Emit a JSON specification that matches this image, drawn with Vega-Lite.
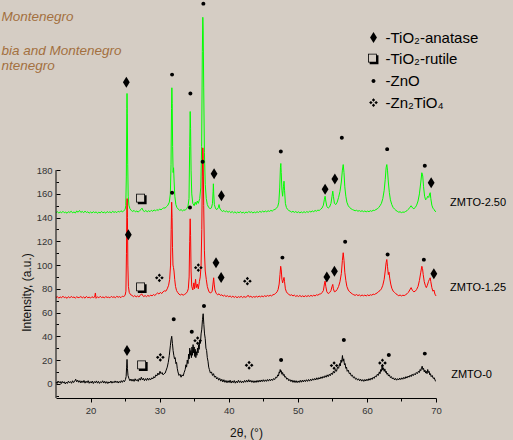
{
"$schema":"https://vega.github.io/schema/vega-lite/v6.json",
"width":380,"height":394,
"autosize":"none",
"padding":{"left":56,"top":4,"right":77,"bottom":42},
"background":"#d5cdc4",
"config":{"view":{"stroke":null},"font":"Liberation Sans"},
"datasets":{
"green":[{"t":15,"i":144.2},{"t":15.2,"i":145.1},{"t":15.4,"i":143.8},{"t":15.6,"i":144.9},{"t":15.8,"i":144},{"t":16,"i":145.3},{"t":16.2,"i":144.1},{"t":16.4,"i":144.6},{"t":16.6,"i":143.7},{"t":16.8,"i":145},{"t":17,"i":144.3},{"t":17.2,"i":145.4},{"t":17.4,"i":144},{"t":17.6,"i":144.8},{"t":17.8,"i":143.9},{"t":18,"i":145.6},{"t":18.2,"i":144.5},{"t":18.4,"i":146},{"t":18.6,"i":144.4},{"t":18.8,"i":145.2},{"t":19,"i":144.1},{"t":19.2,"i":145.5},{"t":19.4,"i":144.3},{"t":19.6,"i":144.9},{"t":19.8,"i":143.8},{"t":20,"i":144.7},{"t":20.2,"i":143.9},{"t":20.4,"i":145},{"t":20.6,"i":144.2},{"t":20.8,"i":144.8},{"t":21,"i":143.7},{"t":21.2,"i":144.6},{"t":21.4,"i":143.9},{"t":21.6,"i":145.2},{"t":21.8,"i":144},{"t":22,"i":144.7},{"t":22.2,"i":143.8},{"t":22.4,"i":145.1},{"t":22.6,"i":144.3},{"t":22.8,"i":144.9},{"t":23,"i":144},{"t":23.2,"i":145.3},{"t":23.4,"i":144.4},{"t":23.6,"i":145},{"t":23.8,"i":144.2},{"t":24,"i":145.4},{"t":24.2,"i":144.6},{"t":24.4,"i":145.8},{"t":24.6,"i":144.9},{"t":24.8,"i":145.7},{"t":25,"i":146.8},{"t":25.1,"i":150},{"t":25.18,"i":175},{"t":25.25,"i":232},{"t":25.28,"i":244.6},{"t":25.32,"i":228},{"t":25.38,"i":185},{"t":25.45,"i":158},{"t":25.55,"i":150.5},{"t":25.7,"i":147.5},{"t":25.9,"i":146},{"t":26.1,"i":145.2},{"t":26.3,"i":146.1},{"t":26.5,"i":144.8},{"t":26.7,"i":145.6},{"t":26.9,"i":144.6},{"t":27.1,"i":145.9},{"t":27.3,"i":146.8},{"t":27.45,"i":148},{"t":27.6,"i":146},{"t":27.8,"i":145.1},{"t":28,"i":146},{"t":28.2,"i":144.9},{"t":28.4,"i":145.8},{"t":28.6,"i":145},{"t":28.8,"i":146.2},{"t":29,"i":145.3},{"t":29.2,"i":146.5},{"t":29.4,"i":145.6},{"t":29.6,"i":146.8},{"t":29.8,"i":146},{"t":30,"i":147.3},{"t":30.2,"i":146.5},{"t":30.4,"i":147.6},{"t":30.6,"i":148.2},{"t":30.8,"i":148},{"t":31,"i":149.3},{"t":31.2,"i":150.5},{"t":31.4,"i":153},{"t":31.55,"i":160},{"t":31.65,"i":185},{"t":31.72,"i":232},{"t":31.77,"i":249.4},{"t":31.82,"i":236},{"t":31.88,"i":200},{"t":31.95,"i":178},{"t":32.02,"i":182},{"t":32.1,"i":170},{"t":32.2,"i":158},{"t":32.35,"i":151},{"t":32.5,"i":148.5},{"t":32.7,"i":147.2},{"t":32.9,"i":146},{"t":33.1,"i":146.8},{"t":33.3,"i":145.7},{"t":33.5,"i":146.5},{"t":33.7,"i":146.2},{"t":33.9,"i":147.5},{"t":34.1,"i":149.5},{"t":34.25,"i":156},{"t":34.35,"i":200},{"t":34.42,"i":229.4},{"t":34.48,"i":215},{"t":34.55,"i":180},{"t":34.65,"i":160},{"t":34.8,"i":152},{"t":35,"i":150},{"t":35.15,"i":153},{"t":35.3,"i":151},{"t":35.45,"i":154},{"t":35.6,"i":152},{"t":35.8,"i":156},{"t":35.95,"i":165},{"t":36.08,"i":200},{"t":36.18,"i":280},{"t":36.25,"i":308.8},{"t":36.3,"i":298},{"t":36.38,"i":250},{"t":36.48,"i":195},{"t":36.6,"i":168},{"t":36.75,"i":156},{"t":36.9,"i":151},{"t":37.1,"i":148.5},{"t":37.3,"i":147.6},{"t":37.5,"i":148.2},{"t":37.65,"i":152},{"t":37.74,"i":162},{"t":37.78,"i":168.5},{"t":37.83,"i":160},{"t":37.92,"i":151},{"t":38.1,"i":147.5},{"t":38.3,"i":146.8},{"t":38.5,"i":148.5},{"t":38.6,"i":151},{"t":38.7,"i":148},{"t":38.9,"i":146.1},{"t":39.1,"i":145.2},{"t":39.3,"i":146},{"t":39.5,"i":144.8},{"t":39.7,"i":145.6},{"t":39.9,"i":144.5},{"t":40.1,"i":145.3},{"t":40.3,"i":144.2},{"t":40.5,"i":145.1},{"t":40.7,"i":144},{"t":40.9,"i":144.9},{"t":41.1,"i":143.8},{"t":41.3,"i":144.7},{"t":41.5,"i":144.1},{"t":41.7,"i":145},{"t":41.9,"i":143.9},{"t":42.1,"i":144.6},{"t":42.3,"i":143.7},{"t":42.5,"i":144.8},{"t":42.7,"i":144},{"t":42.9,"i":145.2},{"t":43.1,"i":144.3},{"t":43.3,"i":144.9},{"t":43.5,"i":143.9},{"t":43.7,"i":144.7},{"t":43.9,"i":144.1},{"t":44.1,"i":145},{"t":44.3,"i":144.3},{"t":44.5,"i":145.3},{"t":44.7,"i":144.5},{"t":44.9,"i":145.5},{"t":45.1,"i":144.7},{"t":45.3,"i":145.6},{"t":45.5,"i":144.9},{"t":45.7,"i":145.8},{"t":45.9,"i":145.2},{"t":46.1,"i":146.1},{"t":46.3,"i":145.5},{"t":46.5,"i":146.5},{"t":46.7,"i":146.9},{"t":46.9,"i":147.8},{"t":47.1,"i":149.5},{"t":47.25,"i":153},{"t":47.38,"i":165},{"t":47.48,"i":182},{"t":47.54,"i":185.6},{"t":47.6,"i":178},{"t":47.7,"i":163},{"t":47.8,"i":158},{"t":47.92,"i":166},{"t":48,"i":170.7},{"t":48.08,"i":163},{"t":48.2,"i":152},{"t":48.35,"i":148.5},{"t":48.5,"i":147},{"t":48.7,"i":146},{"t":48.9,"i":145.4},{"t":49.1,"i":144.6},{"t":49.3,"i":145.3},{"t":49.5,"i":144.4},{"t":49.7,"i":145.1},{"t":49.9,"i":144.2},{"t":50.1,"i":144.9},{"t":50.3,"i":144},{"t":50.5,"i":144.8},{"t":50.7,"i":144.1},{"t":50.9,"i":145},{"t":51.1,"i":144.2},{"t":51.3,"i":145.1},{"t":51.5,"i":144.4},{"t":51.7,"i":145.3},{"t":51.9,"i":144.7},{"t":52.1,"i":145.6},{"t":52.3,"i":145},{"t":52.5,"i":146},{"t":52.7,"i":145.4},{"t":52.9,"i":146.3},{"t":53.1,"i":146},{"t":53.3,"i":147},{"t":53.5,"i":148},{"t":53.7,"i":150.5},{"t":53.85,"i":155.5},{"t":53.95,"i":158},{"t":54.05,"i":154},{"t":54.2,"i":149.5},{"t":54.4,"i":148},{"t":54.6,"i":149},{"t":54.8,"i":152},{"t":54.95,"i":158},{"t":55.06,"i":162.3},{"t":55.15,"i":158},{"t":55.3,"i":152},{"t":55.5,"i":151},{"t":55.7,"i":153},{"t":55.9,"i":157},{"t":56.1,"i":162},{"t":56.3,"i":170},{"t":56.45,"i":180},{"t":56.57,"i":184.7},{"t":56.68,"i":178},{"t":56.8,"i":166},{"t":56.95,"i":158},{"t":57.1,"i":153},{"t":57.3,"i":150},{"t":57.5,"i":148.5},{"t":57.7,"i":147.5},{"t":57.9,"i":146.8},{"t":58.1,"i":146.3},{"t":58.3,"i":145.8},{"t":58.5,"i":146.2},{"t":58.7,"i":145.4},{"t":58.9,"i":145.9},{"t":59.1,"i":145.2},{"t":59.3,"i":145.8},{"t":59.5,"i":145},{"t":59.7,"i":145.6},{"t":59.9,"i":144.9},{"t":60.1,"i":145.5},{"t":60.3,"i":145},{"t":60.5,"i":145.8},{"t":60.7,"i":145.3},{"t":60.9,"i":146.2},{"t":61.1,"i":146},{"t":61.3,"i":146.8},{"t":61.5,"i":147.3},{"t":61.7,"i":148.5},{"t":61.9,"i":150},{"t":62.1,"i":152},{"t":62.3,"i":156},{"t":62.5,"i":163},{"t":62.65,"i":172},{"t":62.78,"i":182},{"t":62.88,"i":184.7},{"t":62.98,"i":180},{"t":63.1,"i":170},{"t":63.25,"i":161},{"t":63.4,"i":155},{"t":63.6,"i":151},{"t":63.8,"i":148.5},{"t":64,"i":147.2},{"t":64.2,"i":146.1},{"t":64.4,"i":145.3},{"t":64.6,"i":144.6},{"t":64.8,"i":144.9},{"t":65,"i":144.2},{"t":65.2,"i":144.7},{"t":65.4,"i":144.5},{"t":65.6,"i":145.2},{"t":65.8,"i":145.8},{"t":66,"i":147},{"t":66.2,"i":148.5},{"t":66.4,"i":150},{"t":66.6,"i":148.2},{"t":66.8,"i":147.5},{"t":67,"i":148.5},{"t":67.2,"i":150.5},{"t":67.4,"i":154},{"t":67.6,"i":160},{"t":67.8,"i":170},{"t":67.95,"i":177.8},{"t":68.08,"i":175},{"t":68.2,"i":166},{"t":68.35,"i":158},{"t":68.5,"i":155},{"t":68.65,"i":156},{"t":68.8,"i":158},{"t":68.95,"i":157},{"t":69.08,"i":160},{"t":69.16,"i":161},{"t":69.25,"i":156},{"t":69.4,"i":150.5},{"t":69.55,"i":148},{"t":69.7,"i":147},{"t":69.85,"i":145.5},{"t":70,"i":145}],
"red":[{"t":15,"i":72.6},{"t":15.2,"i":73.5},{"t":15.4,"i":72.1},{"t":15.6,"i":73.2},{"t":15.8,"i":72.4},{"t":16,"i":73.8},{"t":16.2,"i":72.5},{"t":16.4,"i":73},{"t":16.6,"i":72},{"t":16.8,"i":73.4},{"t":17,"i":72.3},{"t":17.2,"i":73.6},{"t":17.4,"i":72.7},{"t":17.6,"i":73.1},{"t":17.8,"i":72.2},{"t":18,"i":73.3},{"t":18.2,"i":72.6},{"t":18.4,"i":72.8},{"t":18.6,"i":73.5},{"t":18.8,"i":72.4},{"t":19,"i":73.2},{"t":19.2,"i":72.1},{"t":19.4,"i":73.6},{"t":19.6,"i":72.5},{"t":19.8,"i":73},{"t":20,"i":72.2},{"t":20.2,"i":73.4},{"t":20.4,"i":72.6},{"t":20.6,"i":73.1},{"t":20.7,"i":76.5},{"t":20.8,"i":72},{"t":21,"i":73.3},{"t":21.2,"i":72.4},{"t":21.4,"i":73.7},{"t":21.6,"i":72.6},{"t":21.8,"i":73.2},{"t":22,"i":72.3},{"t":22.2,"i":73.5},{"t":22.4,"i":72.7},{"t":22.6,"i":73},{"t":22.8,"i":72.4},{"t":23,"i":73.6},{"t":23.2,"i":72.8},{"t":23.4,"i":73.3},{"t":23.6,"i":72.5},{"t":23.8,"i":73.7},{"t":24,"i":72.9},{"t":24.2,"i":73.4},{"t":24.4,"i":72.6},{"t":24.6,"i":73.8},{"t":24.8,"i":73.5},{"t":25,"i":74.5},{"t":25.12,"i":78},{"t":25.2,"i":110},{"t":25.26,"i":150},{"t":25.3,"i":156},{"t":25.34,"i":140},{"t":25.4,"i":100},{"t":25.48,"i":82},{"t":25.6,"i":77},{"t":25.8,"i":75},{"t":26,"i":74.5},{"t":26.2,"i":73.4},{"t":26.4,"i":74.3},{"t":26.6,"i":73.2},{"t":26.8,"i":74},{"t":27,"i":73.1},{"t":27.2,"i":74.6},{"t":27.4,"i":75.8},{"t":27.55,"i":74.2},{"t":27.7,"i":73.5},{"t":27.9,"i":74.3},{"t":28.1,"i":73.4},{"t":28.3,"i":74.5},{"t":28.5,"i":73.6},{"t":28.7,"i":74.8},{"t":28.9,"i":74},{"t":29.1,"i":75.2},{"t":29.3,"i":74.4},{"t":29.5,"i":75.5},{"t":29.7,"i":76.5},{"t":29.9,"i":75.6},{"t":30.1,"i":77},{"t":30.3,"i":76},{"t":30.5,"i":77.5},{"t":30.7,"i":78.3},{"t":30.9,"i":78},{"t":31.1,"i":80},{"t":31.3,"i":83},{"t":31.45,"i":88},{"t":31.58,"i":100},{"t":31.67,"i":130},{"t":31.74,"i":153},{"t":31.8,"i":140},{"t":31.86,"i":115},{"t":31.93,"i":100},{"t":32,"i":98},{"t":32.08,"i":95},{"t":32.18,"i":88},{"t":32.3,"i":82},{"t":32.45,"i":78.5},{"t":32.6,"i":77},{"t":32.8,"i":75.5},{"t":33,"i":74.8},{"t":33.2,"i":75.5},{"t":33.4,"i":74.6},{"t":33.6,"i":75.3},{"t":33.8,"i":76},{"t":34,"i":77.5},{"t":34.15,"i":80},{"t":34.27,"i":90},{"t":34.35,"i":120},{"t":34.42,"i":139},{"t":34.48,"i":125},{"t":34.55,"i":95},{"t":34.65,"i":82},{"t":34.8,"i":79},{"t":34.95,"i":85},{"t":35.05,"i":80},{"t":35.2,"i":88},{"t":35.3,"i":81},{"t":35.45,"i":84},{"t":35.6,"i":80},{"t":35.75,"i":86},{"t":35.88,"i":90},{"t":36,"i":100},{"t":36.1,"i":130},{"t":36.18,"i":175},{"t":36.25,"i":198.8},{"t":36.3,"i":190},{"t":36.38,"i":150},{"t":36.48,"i":112},{"t":36.6,"i":95},{"t":36.75,"i":88},{"t":36.9,"i":82},{"t":37.05,"i":79},{"t":37.2,"i":77},{"t":37.4,"i":76.5},{"t":37.6,"i":78},{"t":37.72,"i":84},{"t":37.82,"i":89.3},{"t":37.9,"i":84},{"t":38,"i":79},{"t":38.2,"i":76},{"t":38.4,"i":75},{"t":38.6,"i":75.8},{"t":38.8,"i":74.4},{"t":39,"i":75},{"t":39.2,"i":73.8},{"t":39.4,"i":74.6},{"t":39.6,"i":73.5},{"t":39.8,"i":74.2},{"t":40,"i":73.3},{"t":40.2,"i":74},{"t":40.4,"i":72.9},{"t":40.6,"i":73.8},{"t":40.8,"i":72.7},{"t":41,"i":73.6},{"t":41.2,"i":72.5},{"t":41.4,"i":73.4},{"t":41.6,"i":72.8},{"t":41.8,"i":73.7},{"t":42,"i":72.6},{"t":42.2,"i":73.5},{"t":42.4,"i":72.9},{"t":42.6,"i":73.2},{"t":42.8,"i":74.6},{"t":43,"i":73},{"t":43.2,"i":73.8},{"t":43.4,"i":72.7},{"t":43.6,"i":73.5},{"t":43.8,"i":72.9},{"t":44,"i":73.7},{"t":44.2,"i":73},{"t":44.4,"i":73.9},{"t":44.6,"i":73.2},{"t":44.8,"i":74},{"t":45,"i":73.3},{"t":45.2,"i":74.2},{"t":45.4,"i":73.5},{"t":45.6,"i":74.4},{"t":45.8,"i":73.8},{"t":46,"i":74.6},{"t":46.2,"i":74},{"t":46.4,"i":75},{"t":46.6,"i":75.3},{"t":46.8,"i":76.2},{"t":47,"i":77.5},{"t":47.15,"i":79.5},{"t":47.3,"i":84},{"t":47.42,"i":92},{"t":47.52,"i":99},{"t":47.6,"i":96},{"t":47.7,"i":88},{"t":47.8,"i":85},{"t":47.9,"i":87},{"t":48,"i":89.6},{"t":48.08,"i":86},{"t":48.2,"i":80},{"t":48.35,"i":77.5},{"t":48.5,"i":76.2},{"t":48.7,"i":75.3},{"t":48.9,"i":74.5},{"t":49.1,"i":75},{"t":49.3,"i":74},{"t":49.5,"i":74.7},{"t":49.7,"i":73.6},{"t":49.9,"i":74.3},{"t":50.1,"i":73.5},{"t":50.3,"i":74.4},{"t":50.5,"i":73.4},{"t":50.7,"i":74.1},{"t":50.9,"i":73.3},{"t":51.1,"i":74.2},{"t":51.3,"i":73.5},{"t":51.5,"i":74.3},{"t":51.7,"i":73.6},{"t":51.9,"i":74.5},{"t":52.1,"i":73.8},{"t":52.3,"i":74.6},{"t":52.5,"i":74},{"t":52.7,"i":75},{"t":52.9,"i":74.6},{"t":53.1,"i":75.5},{"t":53.3,"i":75.6},{"t":53.5,"i":76.8},{"t":53.7,"i":78.5},{"t":53.85,"i":84},{"t":53.95,"i":86.5},{"t":54.05,"i":82},{"t":54.2,"i":77.5},{"t":54.4,"i":76},{"t":54.6,"i":76.8},{"t":54.8,"i":78.5},{"t":54.95,"i":82},{"t":55.06,"i":83.7},{"t":55.15,"i":80},{"t":55.3,"i":77.5},{"t":55.5,"i":78},{"t":55.7,"i":79.5},{"t":55.9,"i":82},{"t":56.1,"i":86},{"t":56.3,"i":93},{"t":56.45,"i":104},{"t":56.57,"i":110.4},{"t":56.68,"i":104},{"t":56.8,"i":94},{"t":56.95,"i":87},{"t":57.1,"i":82},{"t":57.3,"i":79},{"t":57.5,"i":77.5},{"t":57.7,"i":76.5},{"t":57.9,"i":75.6},{"t":58.1,"i":75},{"t":58.3,"i":74.5},{"t":58.5,"i":75.2},{"t":58.7,"i":74.3},{"t":58.9,"i":74.9},{"t":59.1,"i":74},{"t":59.3,"i":74.8},{"t":59.5,"i":74.1},{"t":59.7,"i":74.7},{"t":59.9,"i":74},{"t":60.1,"i":74.9},{"t":60.3,"i":74.2},{"t":60.5,"i":75},{"t":60.7,"i":74.6},{"t":60.9,"i":75.5},{"t":61.1,"i":75.2},{"t":61.3,"i":76},{"t":61.5,"i":76.5},{"t":61.7,"i":77.8},{"t":61.9,"i":78.5},{"t":62.1,"i":80},{"t":62.3,"i":83},{"t":62.5,"i":88},{"t":62.65,"i":95},{"t":62.78,"i":102},{"t":62.88,"i":104.7},{"t":62.98,"i":99},{"t":63.1,"i":92},{"t":63.2,"i":94},{"t":63.3,"i":89},{"t":63.45,"i":84},{"t":63.6,"i":80.5},{"t":63.8,"i":78},{"t":64,"i":77},{"t":64.2,"i":75.8},{"t":64.4,"i":75},{"t":64.6,"i":74.2},{"t":64.8,"i":74.8},{"t":65,"i":74},{"t":65.2,"i":74.6},{"t":65.4,"i":74.3},{"t":65.6,"i":75},{"t":65.8,"i":75.8},{"t":66,"i":77},{"t":66.2,"i":79},{"t":66.4,"i":81},{"t":66.6,"i":78.5},{"t":66.8,"i":77.5},{"t":67,"i":78},{"t":67.2,"i":79.5},{"t":67.4,"i":82},{"t":67.6,"i":87},{"t":67.8,"i":94},{"t":67.95,"i":99},{"t":68.05,"i":97},{"t":68.15,"i":92},{"t":68.3,"i":86},{"t":68.45,"i":83},{"t":68.6,"i":81},{"t":68.75,"i":83},{"t":68.9,"i":86},{"t":69.05,"i":88},{"t":69.16,"i":89.3},{"t":69.25,"i":86},{"t":69.4,"i":81},{"t":69.55,"i":78},{"t":69.7,"i":79},{"t":69.85,"i":75.5},{"t":70,"i":74}],
"black":[{"t":15,"i":1.5},{"t":15.15,"i":0.2},{"t":15.3,"i":2.3},{"t":15.45,"i":0.8},{"t":15.6,"i":1.9},{"t":15.75,"i":0.1},{"t":15.9,"i":2},{"t":16.05,"i":0.6},{"t":16.2,"i":1.7},{"t":16.35,"i":-0.2},{"t":16.5,"i":1.4},{"t":16.65,"i":0.3},{"t":16.8,"i":2.2},{"t":16.95,"i":0.9},{"t":17.1,"i":1.8},{"t":17.25,"i":0.4},{"t":17.4,"i":2.5},{"t":17.55,"i":1},{"t":17.7,"i":2.1},{"t":17.85,"i":3.8},{"t":18,"i":1.6},{"t":18.15,"i":3},{"t":18.3,"i":1.2},{"t":18.45,"i":2.6},{"t":18.6,"i":0.7},{"t":18.75,"i":2.4},{"t":18.9,"i":1},{"t":19.05,"i":2.8},{"t":19.2,"i":0.5},{"t":19.35,"i":2.2},{"t":19.5,"i":0.9},{"t":19.65,"i":2.6},{"t":19.8,"i":0.4},{"t":19.95,"i":1.8},{"t":20.1,"i":0.6},{"t":20.25,"i":2.3},{"t":20.4,"i":0.2},{"t":20.55,"i":1.9},{"t":20.7,"i":0.8},{"t":20.85,"i":2.4},{"t":21,"i":0.5},{"t":21.15,"i":2},{"t":21.3,"i":0.3},{"t":21.45,"i":1.7},{"t":21.6,"i":0.9},{"t":21.75,"i":2.5},{"t":21.9,"i":0.6},{"t":22.05,"i":2.1},{"t":22.2,"i":0.4},{"t":22.35,"i":1.8},{"t":22.5,"i":0.2},{"t":22.65,"i":1.6},{"t":22.8,"i":0.7},{"t":22.95,"i":2.3},{"t":23.1,"i":0.5},{"t":23.25,"i":1.9},{"t":23.4,"i":0.8},{"t":23.55,"i":2.4},{"t":23.7,"i":1},{"t":23.85,"i":2.2},{"t":24,"i":0.6},{"t":24.15,"i":2},{"t":24.3,"i":0.9},{"t":24.45,"i":2.6},{"t":24.6,"i":1.2},{"t":24.75,"i":2.8},{"t":24.9,"i":1.7},{"t":25.05,"i":3.5},{"t":25.15,"i":6},{"t":25.22,"i":14},{"t":25.28,"i":20.5},{"t":25.34,"i":13},{"t":25.42,"i":7},{"t":25.55,"i":4.5},{"t":25.7,"i":2.5},{"t":25.85,"i":4},{"t":26,"i":2.2},{"t":26.15,"i":3.8},{"t":26.3,"i":2},{"t":26.45,"i":4.2},{"t":26.6,"i":2.5},{"t":26.75,"i":3.6},{"t":26.9,"i":2},{"t":27.05,"i":4.5},{"t":27.2,"i":3},{"t":27.35,"i":5.5},{"t":27.5,"i":3.2},{"t":27.65,"i":4.6},{"t":27.8,"i":2.6},{"t":27.95,"i":4.3},{"t":28.1,"i":2.8},{"t":28.25,"i":4.8},{"t":28.4,"i":3},{"t":28.55,"i":4.5},{"t":28.7,"i":3.3},{"t":28.85,"i":5},{"t":29,"i":4},{"t":29.15,"i":6},{"t":29.3,"i":5},{"t":29.45,"i":7.5},{"t":29.6,"i":6.5},{"t":29.75,"i":9},{"t":29.9,"i":7.5},{"t":30.05,"i":10.5},{"t":30.2,"i":8.5},{"t":30.35,"i":9.5},{"t":30.5,"i":7.5},{"t":30.65,"i":8.5},{"t":30.8,"i":9},{"t":30.95,"i":11.5},{"t":31.1,"i":14},{"t":31.25,"i":18},{"t":31.4,"i":24},{"t":31.55,"i":32},{"t":31.65,"i":37},{"t":31.75,"i":40},{"t":31.85,"i":34},{"t":31.95,"i":28},{"t":32.05,"i":24},{"t":32.15,"i":21},{"t":32.25,"i":22},{"t":32.35,"i":17},{"t":32.45,"i":18},{"t":32.55,"i":13},{"t":32.65,"i":10},{"t":32.8,"i":7},{"t":32.95,"i":8},{"t":33.1,"i":5.5},{"t":33.25,"i":7.5},{"t":33.4,"i":6.5},{"t":33.55,"i":9.5},{"t":33.7,"i":12},{"t":33.8,"i":16},{"t":33.9,"i":14},{"t":34,"i":20},{"t":34.1,"i":17},{"t":34.2,"i":25},{"t":34.28,"i":21},{"t":34.36,"i":30},{"t":34.44,"i":24},{"t":34.52,"i":28},{"t":34.6,"i":22},{"t":34.68,"i":31},{"t":34.76,"i":24},{"t":34.84,"i":33},{"t":34.92,"i":26},{"t":35,"i":31},{"t":35.08,"i":23},{"t":35.16,"i":29},{"t":35.24,"i":22},{"t":35.32,"i":27},{"t":35.4,"i":24},{"t":35.48,"i":30},{"t":35.56,"i":26},{"t":35.64,"i":33},{"t":35.72,"i":29},{"t":35.8,"i":36},{"t":35.9,"i":34},{"t":36,"i":42},{"t":36.1,"i":46},{"t":36.2,"i":54},{"t":36.3,"i":59},{"t":36.4,"i":50},{"t":36.5,"i":42},{"t":36.6,"i":38},{"t":36.7,"i":30},{"t":36.8,"i":28},{"t":36.9,"i":22},{"t":37,"i":19},{"t":37.1,"i":14},{"t":37.2,"i":12},{"t":37.35,"i":9},{"t":37.5,"i":10},{"t":37.65,"i":7},{"t":37.8,"i":8.5},{"t":37.95,"i":5.5},{"t":38.1,"i":6.5},{"t":38.25,"i":4},{"t":38.4,"i":5.2},{"t":38.55,"i":3},{"t":38.7,"i":4.5},{"t":38.85,"i":2.2},{"t":39,"i":3.8},{"t":39.15,"i":1.5},{"t":39.3,"i":3.4},{"t":39.45,"i":1.2},{"t":39.6,"i":2.8},{"t":39.75,"i":0.8},{"t":39.9,"i":2.6},{"t":40.05,"i":1},{"t":40.2,"i":3},{"t":40.35,"i":0.6},{"t":40.5,"i":2.4},{"t":40.65,"i":0.9},{"t":40.8,"i":2.7},{"t":40.95,"i":0.5},{"t":41.1,"i":2.2},{"t":41.25,"i":0.8},{"t":41.4,"i":2.9},{"t":41.55,"i":1.1},{"t":41.7,"i":2.5},{"t":41.85,"i":0.7},{"t":42,"i":2.3},{"t":42.15,"i":1},{"t":42.3,"i":2.8},{"t":42.45,"i":1.3},{"t":42.6,"i":3},{"t":42.75,"i":1.4},{"t":42.9,"i":3.4},{"t":43.05,"i":1.5},{"t":43.2,"i":2.9},{"t":43.35,"i":1.2},{"t":43.5,"i":2.6},{"t":43.65,"i":0.9},{"t":43.8,"i":2.5},{"t":43.95,"i":1.1},{"t":44.1,"i":2.8},{"t":44.25,"i":1.3},{"t":44.4,"i":3},{"t":44.55,"i":1.5},{"t":44.7,"i":3.2},{"t":44.85,"i":1.8},{"t":45,"i":3.4},{"t":45.15,"i":1.9},{"t":45.3,"i":3.3},{"t":45.45,"i":2},{"t":45.6,"i":3.6},{"t":45.75,"i":2.2},{"t":45.9,"i":3.8},{"t":46.05,"i":2.5},{"t":46.2,"i":4},{"t":46.35,"i":2.8},{"t":46.5,"i":4.4},{"t":46.65,"i":3.5},{"t":46.8,"i":5.5},{"t":46.95,"i":5},{"t":47.1,"i":7.5},{"t":47.2,"i":6.5},{"t":47.3,"i":10},{"t":47.38,"i":9},{"t":47.45,"i":12},{"t":47.52,"i":10},{"t":47.6,"i":11},{"t":47.7,"i":8},{"t":47.8,"i":9.5},{"t":47.9,"i":7},{"t":48,"i":8},{"t":48.12,"i":5.5},{"t":48.25,"i":6},{"t":48.4,"i":3.8},{"t":48.55,"i":4.6},{"t":48.7,"i":2.5},{"t":48.85,"i":3.6},{"t":49,"i":1.8},{"t":49.15,"i":3.2},{"t":49.3,"i":1.2},{"t":49.45,"i":2.8},{"t":49.6,"i":1},{"t":49.75,"i":2.6},{"t":49.9,"i":0.9},{"t":50.05,"i":2.4},{"t":50.2,"i":1.1},{"t":50.35,"i":2.9},{"t":50.5,"i":1.3},{"t":50.65,"i":3},{"t":50.8,"i":1.5},{"t":50.95,"i":3.2},{"t":51.1,"i":1.8},{"t":51.25,"i":3.4},{"t":51.4,"i":2},{"t":51.55,"i":3.6},{"t":51.7,"i":2.2},{"t":51.85,"i":3.9},{"t":52,"i":2.6},{"t":52.15,"i":4.2},{"t":52.3,"i":3},{"t":52.45,"i":4.5},{"t":52.6,"i":3.2},{"t":52.75,"i":5},{"t":52.9,"i":3.6},{"t":53.05,"i":5.2},{"t":53.2,"i":4},{"t":53.35,"i":5.8},{"t":53.5,"i":4.5},{"t":53.65,"i":6.2},{"t":53.8,"i":5},{"t":53.95,"i":6.8},{"t":54.1,"i":5.5},{"t":54.25,"i":7.5},{"t":54.4,"i":6},{"t":54.55,"i":8},{"t":54.7,"i":6.8},{"t":54.85,"i":9},{"t":55,"i":7.8},{"t":55.15,"i":10.5},{"t":55.3,"i":9},{"t":55.45,"i":12},{"t":55.6,"i":10.5},{"t":55.75,"i":14},{"t":55.9,"i":13},{"t":56.05,"i":17},{"t":56.15,"i":15},{"t":56.25,"i":20},{"t":56.35,"i":18},{"t":56.46,"i":23.8},{"t":56.55,"i":19},{"t":56.65,"i":21},{"t":56.75,"i":16},{"t":56.85,"i":17},{"t":56.95,"i":13},{"t":57.05,"i":14},{"t":57.15,"i":10.5},{"t":57.3,"i":11.5},{"t":57.45,"i":8.5},{"t":57.6,"i":9},{"t":57.75,"i":6.5},{"t":57.9,"i":7.2},{"t":58.05,"i":5},{"t":58.2,"i":5.8},{"t":58.35,"i":3.8},{"t":58.5,"i":4.6},{"t":58.65,"i":3},{"t":58.8,"i":4.2},{"t":58.95,"i":2.5},{"t":59.1,"i":3.8},{"t":59.25,"i":2.2},{"t":59.4,"i":3.5},{"t":59.55,"i":2},{"t":59.7,"i":3.6},{"t":59.85,"i":2.3},{"t":60,"i":3.9},{"t":60.15,"i":2.6},{"t":60.3,"i":4.3},{"t":60.45,"i":3},{"t":60.6,"i":4.8},{"t":60.75,"i":3.6},{"t":60.9,"i":5.5},{"t":61.05,"i":4.5},{"t":61.2,"i":6.5},{"t":61.35,"i":5.8},{"t":61.5,"i":8},{"t":61.65,"i":7},{"t":61.8,"i":10},{"t":61.9,"i":8.5},{"t":62,"i":12},{"t":62.1,"i":10.5},{"t":62.2,"i":14.8},{"t":62.3,"i":11.5},{"t":62.4,"i":13.5},{"t":62.5,"i":10.5},{"t":62.6,"i":12.5},{"t":62.7,"i":9.5},{"t":62.8,"i":10.5},{"t":62.9,"i":8},{"t":63,"i":9},{"t":63.12,"i":6.5},{"t":63.25,"i":7.5},{"t":63.4,"i":5.2},{"t":63.55,"i":6},{"t":63.7,"i":4},{"t":63.85,"i":5},{"t":64,"i":3.2},{"t":64.15,"i":4.5},{"t":64.3,"i":3},{"t":64.45,"i":4.3},{"t":64.6,"i":3.2},{"t":64.75,"i":4.8},{"t":64.9,"i":3.5},{"t":65.05,"i":5},{"t":65.2,"i":3.8},{"t":65.35,"i":5.5},{"t":65.5,"i":4.2},{"t":65.65,"i":6},{"t":65.8,"i":4.8},{"t":65.95,"i":6.5},{"t":66.1,"i":5.5},{"t":66.25,"i":7.2},{"t":66.4,"i":6},{"t":66.55,"i":8},{"t":66.7,"i":6.8},{"t":66.85,"i":8.5},{"t":67,"i":7.5},{"t":67.15,"i":9.5},{"t":67.3,"i":8.5},{"t":67.45,"i":10.5},{"t":67.6,"i":9.5},{"t":67.7,"i":12},{"t":67.8,"i":11},{"t":67.9,"i":13.5},{"t":68,"i":14.8},{"t":68.1,"i":12},{"t":68.2,"i":13},{"t":68.3,"i":10},{"t":68.4,"i":11.5},{"t":68.5,"i":9},{"t":68.6,"i":10.5},{"t":68.7,"i":8.5},{"t":68.8,"i":12},{"t":68.9,"i":9.5},{"t":69,"i":10.5},{"t":69.1,"i":7.5},{"t":69.2,"i":8.5},{"t":69.3,"i":6},{"t":69.45,"i":7},{"t":69.6,"i":4.5},{"t":69.75,"i":5},{"t":69.9,"i":2.5},{"t":70,"i":2}],
"markers":[{"t":25.18,"i":254,"m":"a"},{"t":27.4,"i":155.5,"m":"r"},{"t":31.8,"i":260.5,"m":"z"},{"t":34.45,"i":244.5,"m":"z"},{"t":36.33,"i":320.3,"m":"z"},{"t":37.88,"i":177,"m":"a"},{"t":38.94,"i":158.5,"m":"a"},{"t":47.54,"i":195.7,"m":"z"},{"t":53.95,"i":164,"m":"a"},{"t":55.36,"i":172.5,"m":"a"},{"t":56.37,"i":207.3,"m":"z"},{"t":62.93,"i":197.7,"m":"z"},{"t":68.38,"i":183.7,"m":"z"},{"t":69.3,"i":169.3,"m":"a"},
{"t":25.47,"i":125.5,"m":"a"},{"t":27.4,"i":80.7,"m":"r"},{"t":29.96,"i":89.3,"m":"zt"},{"t":31.8,"i":161,"m":"z"},{"t":34.39,"i":148.5,"m":"z"},{"t":35.6,"i":97.8,"m":"zt"},{"t":36.23,"i":187,"m":"z"},{"t":38.16,"i":102,"m":"a"},{"t":38.9,"i":89.5,"m":"a"},{"t":42.7,"i":86.4,"m":"zt"},{"t":47.77,"i":106.3,"m":"z"},{"t":54.2,"i":90,"m":"a"},{"t":55.3,"i":94.8,"m":"a"},{"t":56.85,"i":119.6,"m":"z"},{"t":63,"i":109,"m":"z"},{"t":68.24,"i":104.6,"m":"z"},{"t":69.69,"i":92.8,"m":"a"},
{"t":25.28,"i":28,"m":"a"},{"t":27.55,"i":15,"m":"r"},{"t":30.1,"i":22.3,"m":"zt"},{"t":32.04,"i":54.4,"m":"z"},{"t":34.65,"i":43.9,"m":"z"},{"t":35.5,"i":36.3,"m":"zt"},{"t":36.42,"i":65.6,"m":"z"},{"t":42.95,"i":15.6,"m":"zt"},{"t":47.58,"i":20.1,"m":"z"},{"t":55.25,"i":15.3,"m":"zt"},{"t":56.66,"i":36.9,"m":"z"},{"t":62.25,"i":17.5,"m":"zt"},{"t":63.17,"i":24.3,"m":"z"},{"t":68.38,"i":25.4,"m":"z"}],
"series":[{"t":72.03,"i":152,"label":"ZMTO-2.50"},{"t":72.03,"i":80.9,"label":"ZMTO-1.25"},{"t":72.2,"i":7.4,"label":"ZMTO-0"}],
"notes":[{"t":7.1,"i":309,"label":"Montenegro"},{"t":7.1,"i":280.4,"label":"bia and Montenegro"},{"t":7.1,"i":267.8,"label":"ntenegro"}]
},
"resolve":{"axis":{"x":"independent","y":"independent"}},
"layer":[
{"data":{"name":"green"},
 "mark":{"type":"line","color":"#00ff00","strokeWidth":1,"clip":false},
 "encoding":{
  "x":{"field":"t","type":"quantitative","scale":{"domain":[15,70],"nice":false,"zero":false},
   "axis":{"orient":"bottom","values":[20,30,40,50,60,70],"tickSize":4,"labelPadding":3,"labelFontSize":9.5,"labelFont":"Liberation Sans","labelColor":"#333333","labelFlush":false,"labelOverlap":false,"domainColor":"#000000","tickColor":"#000000","grid":false,"title":"2θ, (°)","titleFont":"Liberation Sans","titleFontSize":12,"titleFontWeight":"normal","titleColor":"#111111","titleY":34,"titleBaseline":"middle"}},
  "y":{"field":"i","type":"quantitative","scale":{"domain":[-12,320],"nice":false,"zero":false},
   "axis":{"orient":"left","values":[0,20,40,60,80,100,120,140,160,180],"tickSize":-4,"labelPadding":8,"labelFontSize":9.5,"labelFont":"Liberation Sans","labelColor":"#333333","labelFlush":false,"labelOverlap":false,"domain":false,"tickColor":"#000000","grid":false,"title":"Intensity, (a.u.)","titleFont":"Liberation Sans","titleFontSize":12,"titleFontWeight":"normal","titleColor":"#111111","titleX":-30,"titleY":288,"titleAngle":-90,"titleAlign":"center","titleBaseline":"middle"}}
 }},
{"data":{"name":"red"},
 "mark":{"type":"line","color":"#ff0000","strokeWidth":1,"clip":false},
 "encoding":{
  "x":{"field":"t","type":"quantitative","scale":{"domain":[15,70],"nice":false,"zero":false},"axis":null},
  "y":{"field":"i","type":"quantitative","scale":{"domain":[-12,320],"nice":false,"zero":false},"axis":null}
 }},
{"data":{"name":"black"},
 "mark":{"type":"line","color":"#000000","strokeWidth":1,"clip":false},
 "encoding":{
  "x":{"field":"t","type":"quantitative","scale":{"domain":[15,70],"nice":false,"zero":false},"axis":null},
  "y":{"field":"i","type":"quantitative","scale":{"domain":[-12,320],"nice":false,"zero":false},"axis":null}
 }},
{"data":{"values":[{}]},
 "mark":{"type":"rule","color":"#000000","strokeWidth":1},
 "encoding":{
  "x":{"datum":15,"type":"quantitative","scale":{"domain":[15,70],"nice":false,"zero":false},"axis":null},
  "y":{"datum":-12,"type":"quantitative","scale":{"domain":[-12,320],"nice":false,"zero":false},"axis":null},
  "y2":{"datum":180}
 }},
{"data":{"name":"markers"},
 "mark":{"type":"point","filled":true,"color":"#000000","opacity":1,"size":121,"strokeWidth":0},
 "encoding":{
  "x":{"field":"t","type":"quantitative","scale":{"domain":[15,70],"nice":false,"zero":false},
   "axis":{"orient":"bottom","values":[25,35,45,55,65],"tickSize":3,"labels":false,"domain":false,"grid":false,"title":null,"tickColor":"#000000"}},
  "y":{"field":"i","type":"quantitative","scale":{"domain":[-12,320],"nice":false,"zero":false},
   "axis":{"orient":"left","values":[-10,10,30,50,70,90,110,130,150,170],"tickSize":-2.5,"labels":false,"domain":false,"grid":false,"title":null,"tickColor":"#000000"}},
  "shape":{"field":"m","type":"nominal",
   "scale":{"domain":["a","r","z","zt"],"range":["M0,-1L0.62,0L0,1L-0.62,0Z","M-1,-1H0.6V0.6H-1Z M-0.85,-0.85V0.45H0.45V-0.85Z M0.6,-0.7H0.9V0.9H-0.7V0.6H0.6Z","M-0.36,0A0.36,0.36,0,1,1,0.36,0A0.36,0.36,0,1,1,-0.36,0Z","M0,-0.8L0.3,-0.48L0,-0.16L-0.3,-0.48Z M0.8,0L0.48,0.3L0.16,0L0.48,-0.3Z M0,0.8L0.3,0.48L0,0.16L-0.3,0.48Z M-0.8,0L-0.48,0.3L-0.16,0L-0.48,-0.3Z"]},
   "legend":{"orient":"none","legendX":310,"legendY":25.5,"title":null,"padding":0,
     "labelExpr":"datum.label == 'a' ? '-TiO₂-anatase' : datum.label == 'r' ? '-TiO₂-rutile' : datum.label == 'z' ? '-ZnO' : '-Zn₂TiO₄'",
     "labelFont":"Liberation Sans","labelFontSize":15,"labelColor":"#000000","labelOffset":4.5,"symbolOffset":0,
     "symbolSize":121,"symbolFillColor":"#000000","symbolStrokeWidth":0,"symbolOpacity":1,"clipHeight":16,"rowPadding":5.7}}
 }},
{"data":{"name":"series"},
 "mark":{"type":"text","align":"left","baseline":"middle","font":"Liberation Sans","fontSize":11,"color":"#000000"},
 "encoding":{
  "x":{"field":"t","type":"quantitative","scale":{"domain":[15,70],"nice":false,"zero":false},"axis":null},
  "y":{"field":"i","type":"quantitative","scale":{"domain":[-12,320],"nice":false,"zero":false},"axis":null},
  "text":{"field":"label"}
 }},
{"data":{"name":"notes"},
 "mark":{"type":"text","align":"left","baseline":"middle","font":"Liberation Sans","fontStyle":"italic","fontSize":13.5,"color":"#a3703f"},
 "encoding":{
  "x":{"field":"t","type":"quantitative","scale":{"domain":[15,70],"nice":false,"zero":false},"axis":null},
  "y":{"field":"i","type":"quantitative","scale":{"domain":[-12,320],"nice":false,"zero":false},"axis":null},
  "text":{"field":"label"}
 }}
]
}
